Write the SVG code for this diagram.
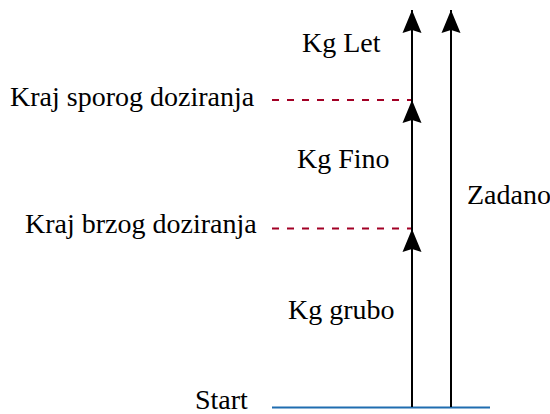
<svg xmlns="http://www.w3.org/2000/svg" width="550" height="414" viewBox="0 0 550 414">
  <style>
    .lbl { font-family: "Liberation Serif", "Times New Roman", serif; font-size: 28px; fill: #000000; }
    .arr { stroke: #000000; stroke-width: 2; fill: none; marker-end: url(#ah); }
    .dash { stroke: #a20025; stroke-width: 2; stroke-dasharray: 7 8; fill: none; }
    .base { stroke: #1f6db0; stroke-width: 2; fill: none; }
  </style>
  <defs>
    <marker id="ah" viewBox="0 -10 24 20" refX="23" refY="0" markerWidth="24" markerHeight="20" markerUnits="userSpaceOnUse" orient="auto">
      <path d="M23,0 L0,-9.5 L3,0 L0,9.5 Z" fill="#000000"/>
    </marker>
  </defs>
  <rect width="550" height="414" fill="#ffffff"/>
  <g id="connectors">
    <line class="dash" x1="272" y1="100" x2="412" y2="100"/>
    <line class="dash" x1="272" y1="228.5" x2="412" y2="228.5"/>
    <line class="base" x1="272" y1="407.5" x2="490" y2="407.5"/>
    <path class="arr" d="M412,407 L412,229"/>
    <path class="arr" d="M412,229 L412,100"/>
    <path class="arr" d="M412,100 L412,10"/>
    <path class="arr" d="M451,407 L451,10"/>
  </g>
  <g id="kg-let"><text class="lbl" x="302" y="52">Kg Let</text></g>
  <g id="kraj-sporog"><text class="lbl" x="10" y="106">Kraj sporog doziranja</text></g>
  <g id="kg-fino"><text class="lbl" x="297" y="168">Kg Fino</text></g>
  <g id="kraj-brzog"><text class="lbl" x="25" y="233">Kraj brzog doziranja</text></g>
  <g id="zadano"><text class="lbl" x="467" y="204">Zadano</text></g>
  <g id="kg-grubo"><text class="lbl" x="288" y="319">Kg grubo</text></g>
  <g id="start"><text class="lbl" x="195" y="409">Start</text></g>
</svg>
